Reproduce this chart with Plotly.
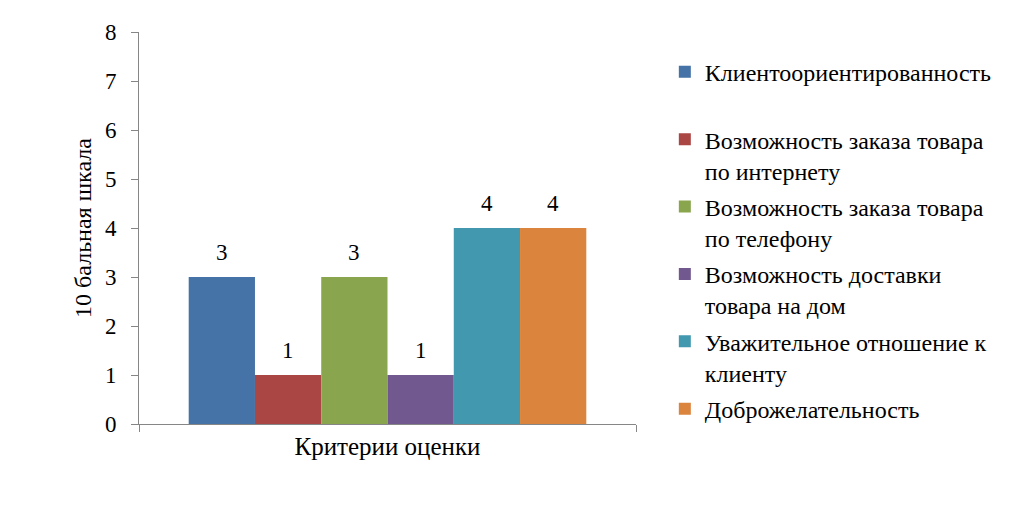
import plotly.graph_objs as go

category = ['Критерии оценки']
series_names = [
    'Клиентоориентированность<br>&nbsp;',
    'Возможность заказа товара<br>по интернету',
    'Возможность заказа товара<br>по телефону',
    'Возможность доставки<br>товара на дом',
    'Уважительное отношение к<br>клиенту',
    'Доброжелательность',
]
scores = [3, 1, 3, 1, 4, 4]
colors = ['#4572A7', '#AA4643', '#89A54E', '#71588F', '#4198AF', '#DB843D']

font = 'Liberation Serif'
bar_px = 66.2  # pixel width of one bar, used to centre the value labels

fig = go.Figure()
for i, (name, val, col) in enumerate(zip(series_names, scores, colors)):
    fig.add_trace(go.Bar(x=category, y=[val], name=name, legendgroup=str(i),
                         marker=dict(color=col, line=dict(width=0))))
    fig.add_annotation(x=category[0], y=val, text=str(val), showarrow=False,
                       xshift=(i - 2.5) * bar_px, yshift=10, yanchor='bottom',
                       font=dict(family=font, size=23, color='black'))

fig.update_layout(
    width=1022, height=506,
    margin=dict(l=131, r=394, t=16, b=90),
    paper_bgcolor='white', plot_bgcolor='white',
    font=dict(family=font, size=23, color='black'),
    barmode='group', bargap=0.2, bargroupgap=0,
    showlegend=True,
    legend=dict(x=1.058, y=0.955, xanchor='left', yanchor='top', valign='top',
                font=dict(family=font, size=24, color='black'),
                itemwidth=30, tracegroupgap=2),
)
fig.update_xaxes(showline=True, linecolor='#868686', linewidth=1, ticks='outside', tickson='boundaries',
                 ticklen=7, tickcolor='#868686', showgrid=False,
                 tickfont=dict(family=font, size=25, color='black'))
fig.update_yaxes(range=[0, 8], dtick=1, showline=True, linecolor='#868686', linewidth=1,
                 ticks='outside', ticklen=7, tickcolor='#868686', showgrid=False, zeroline=False,
                 ticklabelstandoff=10,
                 tickfont=dict(family=font, size=23, color='black'),
                 title=dict(text='10 бальная шкала', font=dict(family=font, size=24), standoff=6))

fig.write_html('out.html')
